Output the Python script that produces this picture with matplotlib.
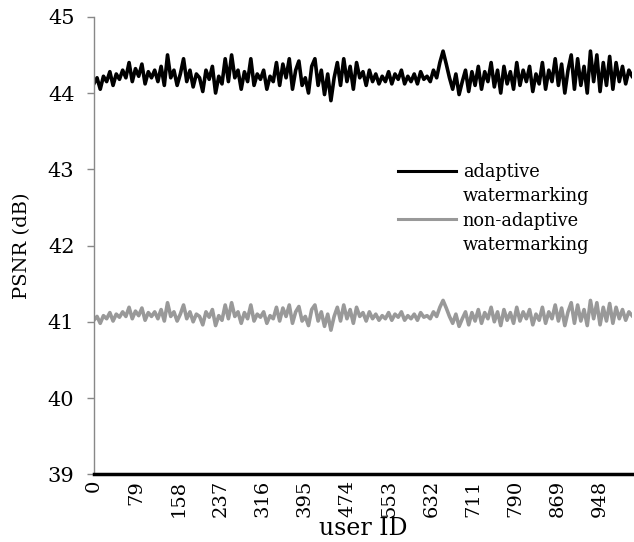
import numpy as np
import matplotlib
matplotlib.use("Agg")
from matplotlib import pyplot as plt
from matplotlib.lines import Line2D

user_id = np.arange(0, 1009, 6)
adaptive = [
    44.12, 44.2, 44.05, 44.22, 44.15, 44.28, 44.1, 44.25, 44.18, 44.3,
    44.2, 44.4, 44.15, 44.32, 44.22, 44.38, 44.12, 44.28, 44.2, 44.3,
    44.15, 44.35, 44.1, 44.5, 44.2, 44.3, 44.1, 44.25, 44.45, 44.15,
    44.3, 44.08, 44.25, 44.2, 44.02, 44.3, 44.18, 44.35, 44.0, 44.22,
    44.12, 44.45, 44.15, 44.5, 44.2, 44.3, 44.05, 44.28, 44.15, 44.45,
    44.1, 44.25, 44.18, 44.3, 44.05, 44.22, 44.15, 44.4, 44.1, 44.38,
    44.2, 44.45, 44.05, 44.3, 44.42, 44.1, 44.2, 44.0, 44.35, 44.45,
    44.1, 44.3, 43.98, 44.25, 43.9, 44.2, 44.4, 44.1, 44.45, 44.15,
    44.35, 44.05, 44.4, 44.2, 44.28, 44.1, 44.3, 44.15, 44.25, 44.12,
    44.22, 44.15, 44.28, 44.12, 44.25, 44.18, 44.3, 44.12, 44.22, 44.15,
    44.25, 44.12, 44.28, 44.18, 44.22, 44.15, 44.3, 44.2, 44.4, 44.55,
    44.38, 44.2, 44.05, 44.25, 43.98, 44.15, 44.3, 44.02, 44.28, 44.1,
    44.35, 44.05, 44.28, 44.15, 44.4, 44.08, 44.3, 44.0, 44.35, 44.12,
    44.28, 44.05, 44.4, 44.1, 44.3, 44.15, 44.35, 44.02, 44.25, 44.12,
    44.4, 44.05, 44.3, 44.15, 44.45, 44.1, 44.38, 44.0, 44.3, 44.5,
    44.05, 44.45, 44.1, 44.35, 44.0, 44.55, 44.15, 44.5, 44.02, 44.4,
    44.1, 44.48, 44.05, 44.4, 44.15, 44.35, 44.12, 44.3, 44.22,
]
non_adaptive = [
    41.02, 41.07, 40.98, 41.08, 41.04, 41.12, 41.01, 41.10, 41.06, 41.13,
    41.07, 41.19, 41.04, 41.14, 41.08, 41.18, 41.02, 41.12, 41.07, 41.13,
    41.04, 41.16, 41.01, 41.25, 41.07, 41.13, 41.01, 41.10, 41.22, 41.04,
    41.13, 41.00, 41.10, 41.07, 40.96, 41.13, 41.06, 41.16, 40.95, 41.08,
    41.02, 41.22, 41.04, 41.25, 41.07, 41.13, 40.98, 41.12, 41.04, 41.22,
    41.01, 41.10, 41.06, 41.13, 40.98, 41.08, 41.04, 41.19, 41.01, 41.18,
    41.07, 41.22, 40.98, 41.13, 41.20, 41.01, 41.07, 40.95, 41.16, 41.22,
    41.01, 41.13, 40.94, 41.10, 40.89, 41.07, 41.19, 41.01, 41.22, 41.04,
    41.16, 40.98, 41.19, 41.07, 41.12, 41.01, 41.13, 41.04, 41.10, 41.02,
    41.08, 41.04, 41.12, 41.02, 41.10, 41.06, 41.13, 41.02, 41.08, 41.04,
    41.10, 41.02, 41.12, 41.06, 41.08, 41.04, 41.13, 41.07, 41.19, 41.28,
    41.18, 41.07, 40.98, 41.10, 40.94, 41.04, 41.13, 40.96, 41.12, 41.01,
    41.16, 40.98, 41.12, 41.04, 41.19, 41.00, 41.13, 40.95, 41.16, 41.02,
    41.12, 40.98, 41.19, 41.01, 41.13, 41.04, 41.16, 40.96, 41.10, 41.02,
    41.19, 40.98, 41.13, 41.04, 41.22, 41.01, 41.18, 40.95, 41.13, 41.25,
    40.98, 41.22, 41.01, 41.16, 40.95, 41.28, 41.04, 41.25, 40.96, 41.19,
    41.01, 41.24, 40.98, 41.19, 41.04, 41.16, 41.02, 41.13, 41.08,
]
x_ticks = [0, 79, 158, 237, 316, 395, 474, 553, 632, 711, 790, 869, 948]
y_ticks = [39, 40, 41, 42, 43, 44, 45]

plt.rcParams["font.family"] = "DejaVu Serif"

fig = plt.figure(figsize=(6.34, 5.42), dpi=100)
ax = fig.add_axes([0.148, 0.125, 0.849, 0.844])

ax.plot(user_id, adaptive, color="black", lw=2.6)
ax.plot(user_id, non_adaptive, color="#999999", lw=2.6)

ax.set_xlim(0, 1008)
ax.set_ylim(39, 45)
ax.set_xticks(x_ticks)
ax.set_xticklabels([str(t) for t in x_ticks], rotation=90, fontsize=14)
ax.set_yticks(y_ticks)
ax.set_yticklabels([str(t) for t in y_ticks], fontsize=15)
ax.tick_params(axis="x", length=0, pad=4)
ax.tick_params(axis="y", length=5, width=1, color="#888888", pad=9)

for side in ["top", "right"]:
    ax.spines[side].set_visible(False)
ax.spines["left"].set_color("#888888")
ax.spines["left"].set_linewidth(1)
ax.spines["bottom"].set_color("black")
ax.spines["bottom"].set_linewidth(2.5)

ax.set_xlabel("user ID", fontsize=17, labelpad=0)
ax.set_ylabel("PSNR (dB)", fontsize=14, labelpad=12)

handles = [
    Line2D([], [], color="black", lw=2.2),
    Line2D([], [], color="none"),
    Line2D([], [], color="#999999", lw=2.2),
    Line2D([], [], color="none"),
]
labels = ["adaptive", "watermarking", "non-adaptive", "watermarking"]
ax.legend(handles, labels, loc="upper left", bbox_to_anchor=(0.565, 0.68),
          frameon=False, fontsize=12.8, handlelength=3.25, handletextpad=0.4,
          labelspacing=0.35, borderpad=0, borderaxespad=0)

fig.savefig("out.png", dpi=100)
